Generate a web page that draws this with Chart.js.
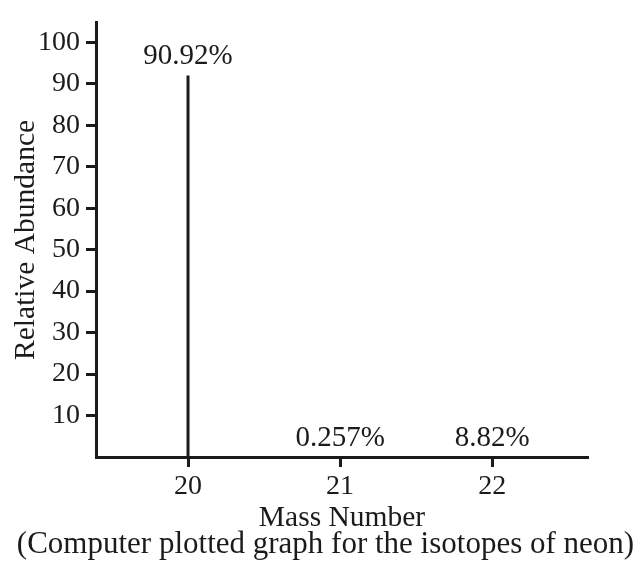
<!DOCTYPE html>
<html>
<head>
<meta charset="utf-8">
<script src="https://cdn.jsdelivr.net/npm/chart.js@4"></script>
<style>
  body { margin: 0; background: #fff; }
  #wrap { width: 639px; height: 563px; }
</style>
</head>
<body>
<div id="wrap"><canvas id="chart"></canvas></div>
<script>
const massNumbers = [20, 21, 22];
const abundanceLabels = ['90.92%', '0.257%', '8.82%'];
const stickHeights = [92, 0, 0];
const yTicks = [10, 20, 30, 40, 50, 60, 70, 80, 90, 100];
const xTicks = [20, 21, 22];
const caption = '(Computer plotted graph for the isotopes of neon)';

const ink = '#1b1b1b';
const serif = "'Liberation Serif', 'Times New Roman', serif";

let datasets = massNumbers.map((m, i) => ({
    data: [{ x: m, y: 0 }, { x: m, y: stickHeights[i] }],
    borderColor: ink,
    borderWidth: 3,
    pointRadius: 0,
    borderCapStyle: 'butt'
}));

const peakLabels = {
    id: 'peakLabels',
    afterDatasetsDraw(chart) {
        let ctx = chart.ctx;
        let xs = chart.scales.x, ys = chart.scales.y;
        ctx.save();
        ctx.font = '29px ' + serif;
        ctx.fillStyle = ink;
        ctx.textAlign = 'center';
        ctx.textBaseline = 'middle';
        massNumbers.forEach((m, i) => {
            ctx.fillText(abundanceLabels[i], xs.getPixelForValue(m), ys.getPixelForValue(stickHeights[i]) - 19);
        });
        ctx.restore();
    }
};

// caption sits under the axis title, a little right of the page centre
const captionText = {
    id: 'captionText',
    afterDraw(chart) {
        let ctx = chart.ctx;
        ctx.save();
        ctx.font = '31px ' + serif;
        ctx.fillStyle = ink;
        ctx.textAlign = 'center';
        ctx.textBaseline = 'middle';
        ctx.fillText(caption, chart.width / 2 + 6, chart.height - 18);
        ctx.restore();
    }
};

new Chart(document.getElementById('chart'), {
    type: 'line',
    data: { datasets: datasets },
    plugins: [peakLabels, captionText],
    options: {
        responsive: true,
        maintainAspectRatio: false,
        animation: false,
        layout: { padding: { left: 0, top: 13, right: 51, bottom: 33 } },
        plugins: {
            legend: { display: false },
            tooltip: { enabled: false }
        },
        scales: {
            x: {
                type: 'linear',
                min: 19.395,
                max: 22.63,
                afterBuildTicks: axis => { axis.ticks = xTicks.map(v => ({ value: v })); },
                afterFit: axis => { axis.height = 73; },
                grid: { drawOnChartArea: false, tickLength: 10, tickWidth: 3, tickColor: ink },
                border: { color: ink, width: 3 },
                ticks: { color: ink, padding: 3, font: { family: serif, size: 28 } },
                title: {
                    display: true,
                    text: 'Mass Number',
                    color: ink,
                    font: { family: serif, size: 29.5, lineHeight: 1.0 },
                    padding: { top: 0, bottom: -3 }
                }
            },
            y: {
                min: 0,
                max: 104.7,
                afterBuildTicks: axis => { axis.ticks = yTicks.map(v => ({ value: v })); },
                afterFit: axis => { axis.width = 96; },
                grid: { drawOnChartArea: false, tickLength: 10, tickWidth: 3, tickColor: ink },
                border: { color: ink, width: 3 },
                ticks: { color: ink, padding: 6, font: { family: serif, size: 28 } },
                title: {
                    display: true,
                    text: 'Relative Abundance',
                    color: ink,
                    font: { family: serif, size: 29.5, lineHeight: 1.0 },
                    padding: { top: 11, bottom: 0 }
                }
            }
        }
    }
});
</script>
</body>
</html>
